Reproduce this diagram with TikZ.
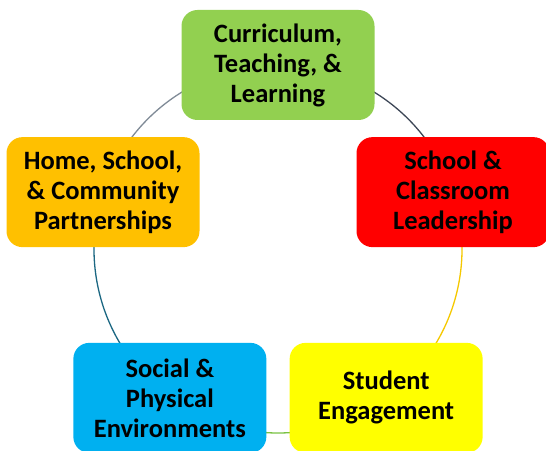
\documentclass[tikz,border=0pt]{standalone}
\usepackage{fontspec}
\setmainfont{Carlito}
\usetikzlibrary{positioning,backgrounds}

\definecolor{leafgreen}{HTML}{92D050}
\definecolor{signalred}{HTML}{FF0000}
\definecolor{lemon}{HTML}{FFFF00}
\definecolor{skyblue}{HTML}{00B0F0}
\definecolor{amber}{HTML}{FFC000}
\definecolor{ringgray}{HTML}{7F8A96}
\definecolor{ringslate}{HTML}{3C4656}
\definecolor{ringgold}{HTML}{F5C800}
\definecolor{ringteal}{HTML}{1B6782}
\definecolor{ringgreen}{HTML}{7AC143}

\begin{document}
\begin{tikzpicture}[x=1pt,y=1pt,
    stage/.style={rounded corners=16pt,minimum width=193pt,minimum height=110pt,
                  inner sep=0pt,align=center,font=\bfseries\fontsize{26.5}{30}\selectfont},
    ring/.style={line width=1.3pt}]
    \useasboundingbox (0,0) rectangle (546,450);
    \clip (0,0) rectangle (546,450);
    \coordinate (hub) at (278,201);

    \node[stage,fill=leafgreen] (curric) at ([shift={(90:184)}]hub) {Curriculum,\\Teaching, \&\\Learning};
    \node[stage,fill=signalred] (lead) at ([shift={(18:184)}]hub) {School \&\\Classroom\\Leadership};
    \node[stage,fill=lemon] (engage) at ([shift={(306:184)}]hub) {Student\\Engagement};
    \node[stage,fill=skyblue] (enviro) at ([shift={(234:184)}]hub) {Social \&\\Physical\\Environments};
    \node[stage,fill=amber] (homes) at ([shift={(162:184)}]hub) {Home, School,\\\& Community\\Partnerships};

    % the ring behind the boxes
    \begin{scope}[on background layer]
        \draw[ring,ringslate] (curric.center) arc[start angle=90,end angle=18,radius=184pt];
        \draw[ring,ringgold] (lead.center) arc[start angle=18,end angle=-54,radius=184pt];
        \draw[ring,ringgreen] (engage.center) arc[start angle=-54,end angle=-126,radius=184pt];
        \draw[ring,ringteal] (enviro.center) arc[start angle=-126,end angle=-198,radius=184pt];
        \draw[ring,ringgray] (homes.center) arc[start angle=162,end angle=90,radius=184pt];
    \end{scope}
\end{tikzpicture}
\end{document}
